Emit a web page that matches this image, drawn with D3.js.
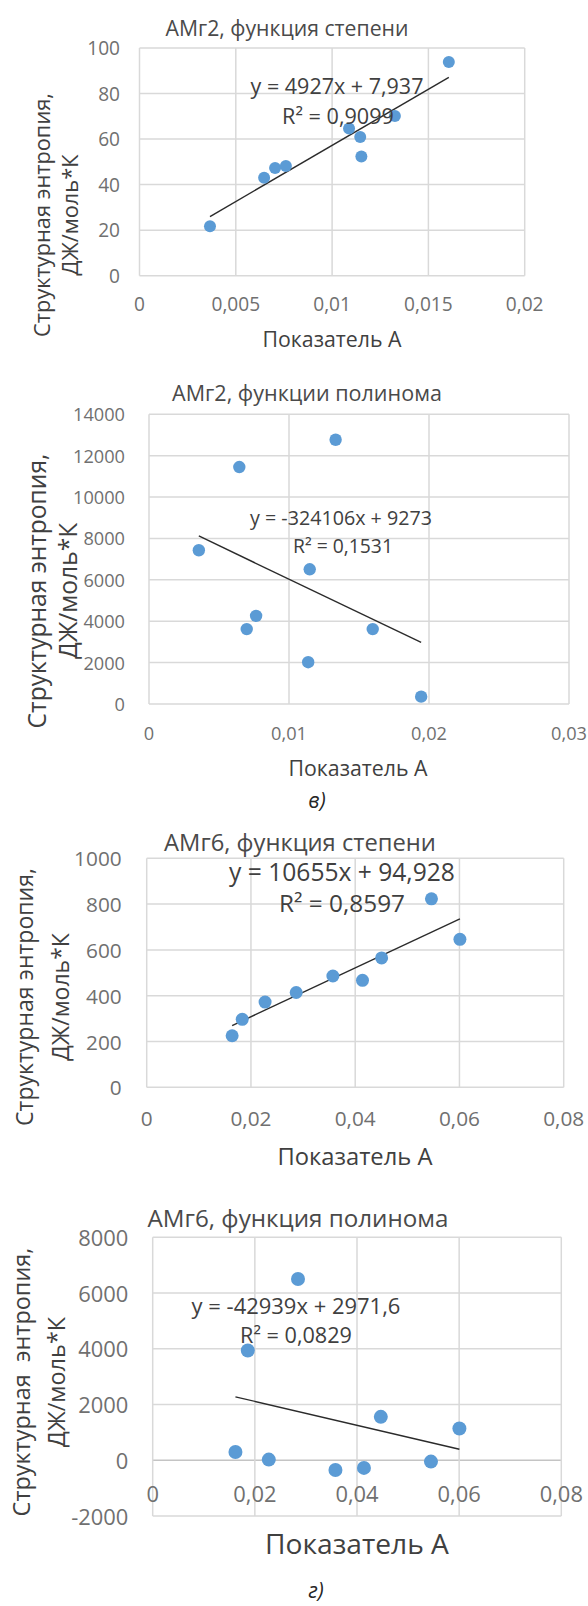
<!DOCTYPE html>
<html><head><meta charset="utf-8">
<script src="https://cdn.jsdelivr.net/npm/d3@7"></script>
<style>body{margin:0;background:#fff}svg{display:block}text{font-family:"Open Sans",sans-serif}</style>
</head><body><svg id="c" width="588" height="1606"></svg>
<script>
// ---------- data ----------
const titles = ["АМг2, функция степени", "АМг2, функции полинома", "АМг6, функция степени", "АМг6, функция полинома"];
const xTitle = "Показатель А";
const yTitleLine1 = ["Структурная энтропия,", "Структурная энтропия,", "Структурная энтропия,", "Структурная  энтропия,"];
const yTitleLine2 = "ДЖ/моль*К";
const eqTexts = ["y = 4927x + 7,937", "y = -324106x + 9273", "y = 10655x + 94,928", "y = -42939x + 2971,6"];
const r2Texts = ["R² = 0,9099", "R² = 0,1531", "R² = 0,8597", "R² = 0,0829"];
const slopes = [4927, -324106, 10655, -42939];
const intercepts = [7.937, 9273, 94.928, 2971.6];
const subLabels = ["", "в)", "", "г)"];

const xA1 = [0.00366, 0.00647, 0.00704, 0.0076, 0.01088, 0.01146, 0.01152, 0.01326, 0.01606];
const yA1 = [21.7, 43.0, 47.3, 48.2, 64.6, 60.9, 52.4, 70.1, 93.9];
const xA2 = [0.00356, 0.00645, 0.00698, 0.00765, 0.01137, 0.01148, 0.01333, 0.01598, 0.01944];
const yA2 = [7430, 11450, 3620, 4260, 2020, 6510, 12770, 3620, 355];
const xA3 = [0.01639, 0.01833, 0.02271, 0.02868, 0.03572, 0.0414, 0.04507, 0.05463, 0.06009];
const yA3 = [225, 297, 372, 414, 486, 467, 565, 823, 646];
const xA4 = [0.0162, 0.01862, 0.02273, 0.02845, 0.03578, 0.04136, 0.04466, 0.05448, 0.06005];
const yA4 = [299, 3940, 24, 6503, -347, -275, 1557, -48, 1138];

const xDomains = [[0, 0.02], [0, 0.03], [0, 0.08], [0, 0.08]];
const yDomains = [[0, 100], [0, 14000], [0, 1000], [-2000, 8000]];
const xTickVals = [[0, 0.005, 0.01, 0.015, 0.02], [0, 0.01, 0.02, 0.03], [0, 0.02, 0.04, 0.06, 0.08], [0, 0.02, 0.04, 0.06, 0.08]];
const yTickVals = [[0, 20, 40, 60, 80, 100], [0, 2000, 4000, 6000, 8000, 10000, 12000, 14000], [0, 200, 400, 600, 800, 1000], [-2000, 0, 2000, 4000, 6000, 8000]];

const xs = [xA1, xA2, xA3, xA4];
const ys = [yA1, yA2, yA3, yA4];

// ---------- layout ----------
const layout = [
  {l:139.5, r:524.7, t:48, b:275.7, title:[287,27], titleW:243, xt:[332,338], xtW:139, yt:[41,69,215], ytW:244,
   eq:[337,85], eqW:173, r2:[338,115], r2W:112, ytickX:120, xtickY:304, tick:19.1, rad:6, sub:null},
  {l:149, r:569, t:414.3, b:704, title:[307,392], titleW:270, xt:[358,767], xtW:139, yt:[36,67,591], ytW:275,
   eq:[341,517], eqW:182, r2:[343,545], r2W:100, ytickX:125, xtickY:733, tick:18.2, rad:6.2, sub:[317,800]},
  {l:146.7, r:563.7, t:858.3, b:1087.3, title:[300,842], titleW:272, xt:[355,1156], xtW:155, yt:[24,60,997], ytW:258,
   eq:[342,871], eqW:226, r2:[342,902], r2W:126, ytickX:121.7, xtickY:1118, tick:20.8, rad:6.5, sub:null},
  {l:152.7, r:561.3, t:1237.3, b:1516, title:[298,1217], titleW:301, xt:[357,1543], xtW:184, yt:[21,56,1382], ytW:269,
   eq:[296,1305], eqW:209, r2:[296,1334], r2W:112, ytickX:128.3, xtickY:1493, tick:21.9, rad:7, sub:[316,1590]}
];

const svg = d3.select("#c");
svg.append("rect").attr("width",588).attr("height",1606).attr("fill","#fff");
const fmt = v => String(v).replace(".", ",");

function fit(sel, w) {
  const len = sel.node().getComputedTextLength();
  const cur = parseFloat(sel.attr("font-size"));
  sel.attr("font-size", cur * w / len);
  return cur * w / len;
}

layout.forEach((L, i) => {
  const g = svg.append("g");
  const x = d3.scaleLinear().domain(xDomains[i]).range([L.l, L.r]);
  const y = d3.scaleLinear().domain(yDomains[i]).range([L.b, L.t]);
  const grid = "#d9d9d9";

  // gridlines
  g.selectAll(".hg").data(yTickVals[i]).join("line")
    .attr("x1", L.l).attr("x2", L.r).attr("y1", d => y(d)).attr("y2", d => y(d))
    .attr("stroke", d => (d === 0 && yDomains[i][0] < 0) ? "#c4c4c4" : grid).attr("stroke-width", 1.5);
  g.selectAll(".vg").data(xTickVals[i]).join("line")
    .attr("y1", L.t).attr("y2", L.b).attr("x1", d => x(d)).attr("x2", d => x(d))
    .attr("stroke", grid).attr("stroke-width", 1.5);

  // y tick labels
  g.selectAll(".yl").data(yTickVals[i]).join("text")
    .attr("x", L.ytickX).attr("y", d => y(d)).attr("text-anchor", "end")
    .attr("dominant-baseline", "central").attr("font-size", L.tick).attr("fill", "#707070")
    .text(d => fmt(d));
  // x tick labels
  g.selectAll(".xl").data(xTickVals[i]).join("text")
    .attr("x", d => x(d)).attr("y", L.xtickY).attr("text-anchor", "middle")
    .attr("dominant-baseline", "central").attr("font-size", L.tick).attr("fill", "#707070")
    .text(d => fmt(d));

  // trendline
  const ext = d3.extent(xs[i]);
  const line = d3.line().x(d => x(d)).y(d => y(slopes[i] * d + intercepts[i]));
  g.append("path").attr("d", line(ext)).attr("stroke", "#2b2b2b").attr("stroke-width", 1.4).attr("fill", "none");

  // points
  g.selectAll(".pt").data(xs[i].map((v, k) => [v, ys[i][k]])).join("circle")
    .attr("cx", d => x(d[0])).attr("cy", d => y(d[1])).attr("r", L.rad).attr("fill", "#5b9bd5");

  // title
  const t = g.append("text").attr("x", L.title[0]).attr("y", L.title[1]).attr("text-anchor", "middle")
    .attr("dominant-baseline", "central").attr("font-size", 20).attr("fill", "#4a4a4a").text(titles[i]);
  fit(t, L.titleW);

  // x title
  const xtt = g.append("text").attr("x", L.xt[0]).attr("y", L.xt[1]).attr("text-anchor", "middle")
    .attr("dominant-baseline", "central").attr("font-size", 20).attr("fill", "#404040").text(xTitle);
  fit(xtt, L.xtW);

  // y title, 2 lines
  const y1t = g.append("text").attr("transform", `translate(${L.yt[0]},${L.yt[2]}) rotate(-90)`)
    .attr("text-anchor", "middle").attr("dominant-baseline", "central").style("white-space", "pre")
    .attr("font-size", 20).attr("fill", "#404040").text(yTitleLine1[i]);
  const fs = fit(y1t, L.ytW);
  g.append("text").attr("transform", `translate(${L.yt[1]},${L.yt[2]}) rotate(-90)`)
    .attr("text-anchor", "middle").attr("dominant-baseline", "central")
    .attr("font-size", fs).attr("fill", "#404040").text(yTitleLine2);

  // equation + R2
  const eq = g.append("text").attr("x", L.eq[0]).attr("y", L.eq[1]).attr("text-anchor", "middle")
    .attr("dominant-baseline", "central").attr("font-size", 20).attr("fill", "#404040").text(eqTexts[i]);
  fit(eq, L.eqW);
  const r2 = g.append("text").attr("x", L.r2[0]).attr("y", L.r2[1]).attr("text-anchor", "middle")
    .attr("dominant-baseline", "central").attr("font-size", 20).attr("fill", "#404040").text(r2Texts[i]);
  fit(r2, L.r2W);

  if (L.sub) {
    g.append("text").attr("x", L.sub[0]).attr("y", L.sub[1]).attr("text-anchor", "middle")
      .attr("dominant-baseline", "central").attr("font-size", 21).attr("font-style", "italic")
      .attr("fill", "#262626").text(subLabels[i]);
  }
});
</script></body></html>
